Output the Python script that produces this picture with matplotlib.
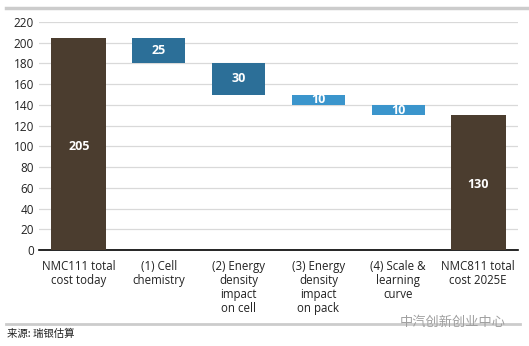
import matplotlib.pyplot as plt
from matplotlib.lines import Line2D

plt.rcParams['font.family'] = ['Open Sans', 'Noto Sans CJK SC', 'DejaVu Sans']

categories = ['NMC111 total\ncost today', '(1) Cell\nchemistry',
              '(2) Energy\ndensity\nimpact\non cell',
              '(3) Energy\ndensity\nimpact\non pack',
              '(4) Scale &\nlearning\ncurve', 'NMC811 total\ncost 2025E']
start_total = 205
steps = [25, 30, 10, 10]
end_total = 130
yticks = [0, 20, 40, 60, 80, 100, 120, 140, 160, 180, 200, 220]

BROWN = '#4b3d2f'
DARK_BLUE = '#2c6f98'
LIGHT_BLUE = '#3b95cc'


def main():
    fig = plt.figure(figsize=(5.29, 3.46), dpi=100)
    ax = fig.add_axes([39 / 529, 1 - 250 / 346, 479 / 529, 228 / 346])

    x = list(range(len(categories)))
    ax.bar(x[0], start_total, width=0.69, color=BROWN, zorder=3)
    ax.text(x[0], 100, str(start_total), color='white', ha='center', va='center',
            fontsize=9, fontweight='bold', zorder=4)

    level = start_total
    for i, v in enumerate(steps):
        c = DARK_BLUE if v >= 20 else LIGHT_BLUE
        ax.bar(x[i + 1], v, bottom=level - v, width=0.66, color=c, zorder=3)
        ax.text(x[i + 1], level - v / 2, str(v), color='white', ha='center',
                va='center', fontsize=9, fontweight='bold', zorder=4)
        level -= v

    ax.bar(x[-1], end_total, width=0.69, color=BROWN, zorder=3)
    ax.text(x[-1], 63, str(end_total), color='white', ha='center', va='center',
            fontsize=9, fontweight='bold', zorder=4)

    ax.set_xlim(-0.5, len(categories) - 0.5)
    ax.set_ylim(0, 220)
    ax.set_yticks(yticks)
    ax.yaxis.grid(True, color='#d9d9d9', linewidth=0.9, zorder=0)
    ax.set_xticks(x)
    ax.set_xticklabels(categories, fontsize=8.3, color='#222222', linespacing=1.12)
    ax.tick_params(axis='y', length=0, labelsize=8.5, colors='#222222')
    ax.tick_params(axis='x', length=0, pad=7)
    for s in ['left', 'right', 'top']:
        ax.spines[s].set_visible(False)
    ax.spines['bottom'].set_color('black')
    ax.spines['bottom'].set_linewidth(1.2)

    # frame lines of the report
    fig.add_artist(Line2D([6 / 529, 1], [1 - 8 / 346] * 2, color='#cccccc', lw=2.5))
    fig.add_artist(Line2D([6 / 529, 520 / 529], [1 - 324 / 346] * 2,
                          color='#cccccc', lw=2))
    fig.text(7 / 529, 1 - 334 / 346, '来源: 瑞银估算', fontsize=7.5, va='center',
             color='#222222', family=['Noto Sans CJK SC', 'DejaVu Sans'])
    fig.text(400 / 529, 1 - 322 / 346, '中汽创新创业中心', fontsize=9.5, va='center',
             color='#a0a0a0', family=['Noto Sans CJK SC', 'DejaVu Sans'])

    fig.savefig('out.png', dpi=100)


if __name__ == '__main__':
    main()
